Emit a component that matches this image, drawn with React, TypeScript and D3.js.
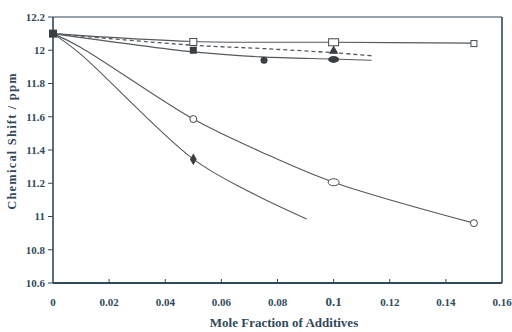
import React from 'react';
import * as d3 from 'd3';

type Pt = [number, number];

// curve points
const squareLine: Pt[] = [[0, 12.1], [0.05, 12.053], [0.1, 12.048], [0.15, 12.043]];
const triangleLine: Pt[] = [[0, 12.1], [0.05, 12.03], [0.075, 12.01], [0.1, 11.985], [0.1135, 11.967]];
const dotLine: Pt[] = [[0, 12.1], [0.05, 11.99], [0.074, 11.96], [0.1, 11.947], [0.1135, 11.94]];
const circleLine: Pt[] = [[0, 12.1], [0.0096, 12.02], [0.05, 11.586], [0.074, 11.39], [0.1, 11.206], [0.15, 10.96]];
const diamondLine: Pt[] = [[0, 12.1], [0.0096, 11.98], [0.05, 11.345], [0.07, 11.149], [0.0904, 10.985]];

// markers
const originPt: Pt = [0, 12.1];
const openSquares: Pt[] = [[0.05, 12.05], [0.1, 12.048], [0.15, 12.04]];
const triangles: Pt[] = [[0.1, 11.995]];
const filledSquares: Pt[] = [[0.05, 12.0]];
const filledDots: Pt[] = [[0.0752, 11.94], [0.1, 11.945]];
const openCircles: Pt[] = [[0.05, 11.586], [0.1, 11.206], [0.15, 10.96]];
const diamonds: Pt[] = [[0.05, 11.344]];

const xTicks = [0, 0.02, 0.04, 0.06, 0.08, 0.1, 0.12, 0.14, 0.16];
const xTickLabels = ['0', '0.02', '0.04', '0.06', '0.08', '0.1', '0.12', '0.14', '0.16'];
const yTicks = [10.6, 10.8, 11, 11.2, 11.4, 11.6, 11.8, 12, 12.2];
const yTickLabels = ['10.6', '10.8', '11', '11.2', '11.4', '11.6', '11.8', '12', '12.2'];

const W = 512;
const H = 332;
const margin = { top: 17, right: 10, bottom: 49, left: 53 };
const ink = '#30495a';
const lineCol = '#555a5e';
const font = '"Liberation Serif", "DejaVu Serif", serif';

export default function App() {
  const x = d3.scaleLinear().domain([0, 0.16]).range([margin.left, W - margin.right]);
  const y = d3.scaleLinear().domain([10.6, 12.2]).range([H - margin.bottom, margin.top]);
  const line = d3.line<Pt>().x(d => x(d[0])).y(d => y(d[1])).curve(d3.curveCatmullRom.alpha(0.5));

  const x0 = x(0), x1 = x(0.16), y0 = y(10.6), y1 = y(12.2);

  return (
    <div style={{ position: 'absolute', left: 0, top: 0 }}>
      <svg width={W} height={H} style={{ display: 'block', background: '#fff' }}>
        {/* frame */}
        <line x1={x0} y1={y1} x2={x1} y2={y1} stroke={ink} strokeWidth={1.2} />
        <line x1={x1} y1={y1} x2={x1} y2={y0} stroke={ink} strokeWidth={1.6} />
        <line x1={x0} y1={y1} x2={x0} y2={y0} stroke={ink} strokeWidth={1.6} />
        <line x1={x0} y1={y0} x2={x1} y2={y0} stroke={ink} strokeWidth={2} />

        {/* y ticks */}
        {yTicks.map((t, i) => (
          <g key={'y' + i}>
            <line x1={x0 - 5} x2={x0} y1={y(t)} y2={y(t)} stroke={ink} strokeWidth={1} />
            <text x={x0 - 8} y={y(t)} dy="0.35em" textAnchor="end" fontFamily={font} fontWeight="bold" fontSize={11} fill={ink}>
              {yTickLabels[i]}
            </text>
          </g>
        ))}

        {/* x ticks */}
        {xTicks.map((t, i) => (
          <g key={'x' + i}>
            {i > 0 && i < xTicks.length - 1 && (
              <line x1={x(t)} x2={x(t)} y1={y0} y2={y0 - 4} stroke={ink} strokeWidth={1} />
            )}
            <text x={x(t)} y={y0 + 23} textAnchor="middle" fontFamily={font} fontWeight="bold"
              fontSize={t === 0.1 ? 13 : 11} fill={ink}>
              {xTickLabels[i]}
            </text>
          </g>
        ))}

        {/* axis titles */}
        <text x={284} y={H - 5} textAnchor="middle" fontFamily={font} fontWeight="bold" fontSize={13} fill={ink}>
          Mole Fraction of Additives
        </text>
        <text transform={`translate(16,141) rotate(-90)`} textAnchor="middle" fontFamily={font}
          fontWeight="bold" fontSize={12.5} fill={ink} letterSpacing={1.2}>
          Chemical Shift / ppm
        </text>

        {/* curves */}
        <g fill="none" stroke={lineCol} strokeWidth={1.1}>
          <path d={line(squareLine) || ''} />
          <path d={line(triangleLine) || ''} strokeDasharray="4,3" strokeWidth={1.3} />
          <path d={line(dotLine) || ''} />
          <path d={line(circleLine) || ''} />
          <path d={line(diamondLine) || ''} />
        </g>

        {/* markers */}
        <rect x={x(originPt[0]) - 4} y={y(originPt[1]) - 4} width={8} height={8} fill="#3a3f44" />
        {openSquares.map((d, i) => {
          const w = i === 1 ? 10 : i === 0 ? 7 : 6;
          const h = i === 1 ? 7 : i === 0 ? 7 : 6;
          return <rect key={'os' + i} x={x(d[0]) - w / 2} y={y(d[1]) - h / 2} width={w} height={h} fill="#fff" stroke="#44494e" strokeWidth={1} />;
        })}
        {triangles.map((d, i) => (
          <path key={'tr' + i} d={d3.symbol(d3.symbolTriangle, 40)() || ''} transform={`translate(${x(d[0])},${y(d[1])})`} fill="#3a3f44" />
        ))}
        {filledSquares.map((d, i) => (
          <rect key={'fs' + i} x={x(d[0]) - 3.5} y={y(d[1]) - 3.5} width={7} height={7} fill="#3a3f44" />
        ))}
        {filledDots.map((d, i) => (
          <ellipse key={'fd' + i} cx={x(d[0])} cy={y(d[1])} rx={i === 1 ? 5.5 : 3.5} ry={3.5} fill="#3a3f44" />
        ))}
        {openCircles.map((d, i) => (
          <ellipse key={'oc' + i} cx={x(d[0])} cy={y(d[1])} rx={i === 1 ? 5.5 : 3.5} ry={3.5} fill="#fff" stroke="#44494e" strokeWidth={1} />
        ))}
        {diamonds.map((d, i) => (
          <path key={'dm' + i} d={d3.symbol(d3.symbolDiamond, 40)() || ''} transform={`translate(${x(d[0])},${y(d[1])})`} fill="#3a3f44" />
        ))}
      </svg>
    </div>
  );
}
